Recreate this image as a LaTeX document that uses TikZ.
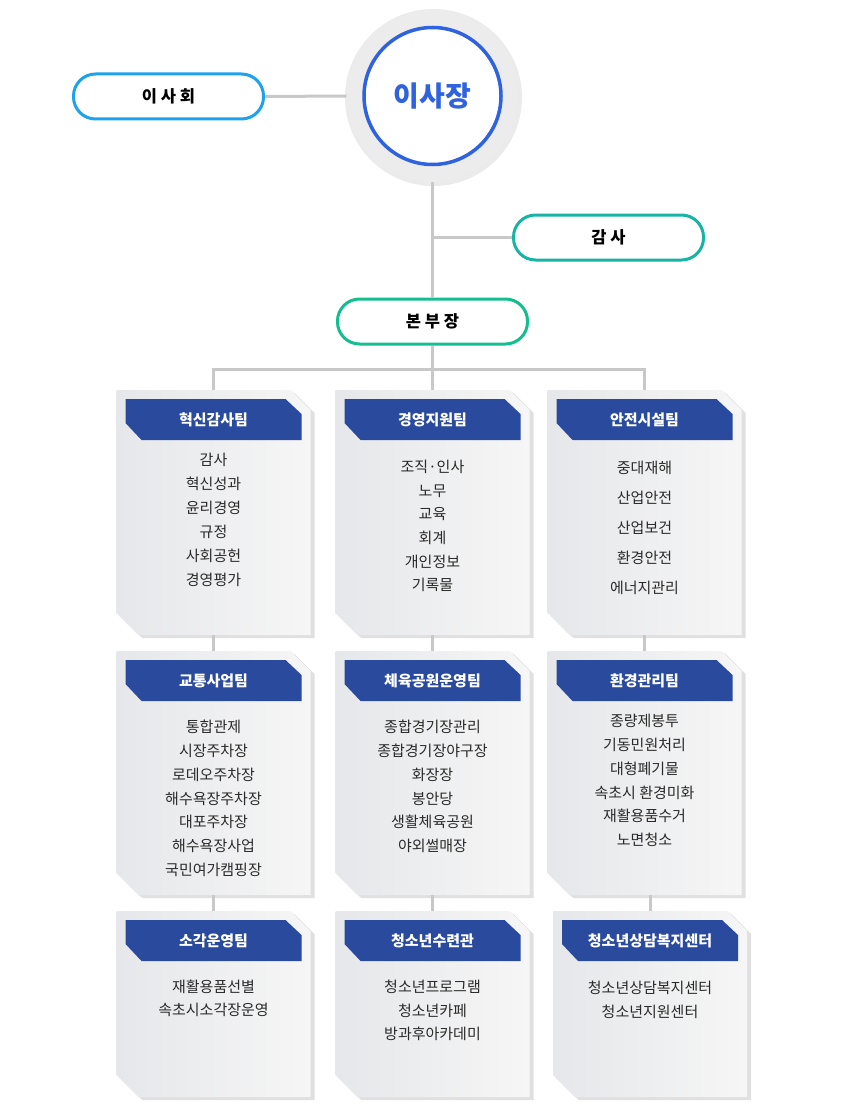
\documentclass[tikz,border=0pt]{standalone}
\usepackage{fontspec}
\setmainfont{Noto Sans CJK KR}
\usetikzlibrary{calc}
\definecolor{lineC}{HTML}{C8C8C8}
\definecolor{boardC}{HTML}{1EA2EE}
\definecolor{auditC}{HTML}{17B4A6}
\definecolor{bonC}{HTML}{14BE8E}
\definecolor{chairC}{HTML}{2F62DE}
\definecolor{ringC}{HTML}{ECECEC}
\definecolor{headC}{HTML}{2A4A9E}
\definecolor{cardL}{HTML}{E6E7EA}
\definecolor{cardR}{HTML}{F6F6F6}
\definecolor{itemC}{HTML}{2A2A2A}
\tikzset{
  conn/.style={draw=lineC, line width=3pt},
  pill/.style={draw=#1, line width=3pt, fill=white, rounded corners=22pt,
    minimum width=190pt, minimum height=45pt, inner sep=0pt,
    font=\fontsize{16.5}{18}\selectfont\bfseries, text=black},
  cardnode/.style={rectangle, inner sep=0pt, outer sep=0pt, minimum width=194pt},
  headtext/.style={font=\fontsize{15}{17}\selectfont\bfseries, text=white, inner sep=0pt},
  itemtext/.style={align=center, inner sep=0pt, text=itemC},
}
% #1 name, #2 cx, #3 top, #4 bottom, #5 title, #6 item center y, #7 baselineskip, #8 items
\newcommand\teamcard[8]{%
  \node[cardnode, minimum height={#4-#3}] (#1) at (#2,{(#3+#4)/2}) {};
  \fill[black!22, opacity=0.55]
    ($(#1.north west)+(4,3)$) -- ($(#1.north east)+(-16,3)$) -- ($(#1.north east)+(4,23)$)
    -- ($(#1.south east)+(4,3)$) -- ($(#1.south west)+(26,3)$) -- ($(#1.south west)+(4,-19)$) -- cycle;
  \fill[black!12, opacity=0.6]
    ($(#1.north west)+(2,1.5)$) -- ($(#1.north east)+(-18,1.5)$) -- ($(#1.north east)+(2,21.5)$)
    -- ($(#1.south east)+(2,1.5)$) -- ($(#1.south west)+(24,1.5)$) -- ($(#1.south west)+(2,-20.5)$) -- cycle;
  \shade[left color=cardL, right color=cardR]
    (#1.north west) -- ($(#1.north east)+(-20,0)$) -- ($(#1.north east)+(0,20)$)
    -- (#1.south east) -- ($(#1.south west)+(22,0)$) -- ($(#1.south west)+(0,-22)$) -- cycle;
  \fill[headC]
    ($(#1.north west)+(9,9)$) -- ($(#1.north east)+(-25,9)$) -- ($(#1.north east)+(-9,24)$)
    -- ($(#1.north east)+(-9,50)$) -- ($(#1.north west)+(25,50)$) -- ($(#1.north west)+(9,33)$) -- cycle;
  \node[headtext] (#1h) at ($(#1.north)+(0,30)$) {#5};
  \node[itemtext, font={\fontsize{15}{#7}\selectfont}] (#1t) at (#2,#6) {#8};
}
\begin{document}
\begin{tikzpicture}[x=1pt,y=-1pt]
\useasboundingbox[fill=white] (0,0) rectangle (857,1118);

% top section
\fill[black!8] (433.5,97.5) circle (88.5);
\node[circle, fill=ringC, minimum size=172pt, inner sep=0pt] (ring) at (432.5,96) {};
\node[circle, fill=white, draw=chairC, line width=3.5pt, minimum size=137pt, inner sep=0pt,
      font=\fontsize{28}{32}\selectfont\bfseries, text=chairC] (chair) at (432.5,96) {이사장};
\node[pill=boardC] (board) at (168.5,96.5) {이 사 회};
\node[pill=auditC] (audit) at (608.5,237.5) {감 사};
\node[pill=bonC] (bon) at (432.5,321.5) {본 부 장};

% cards
\teamcard{c11}{213.5}{390}{635}{혁신감사팀}{520}{24}{감사\\혁신성과\\윤리경영\\규정\\사회공헌\\경영평가}
\teamcard{c12}{432.5}{390}{635}{경영지원팀}{526}{23.6}{조직·인사\\노무\\교육\\회계\\개인정보\\기록물}
\teamcard{c13}{644.5}{390}{635}{안전시설팀}{528}{30}{중대재해\\산업안전\\산업보건\\환경안전\\에너지관리}
\teamcard{c21}{213.5}{651}{895}{교통사업팀}{798.5}{23.8}{통합관제\\시장주차장\\로데오주차장\\해수욕장주차장\\대포주차장\\해수욕장사업\\국민여가캠핑장}
\teamcard{c22}{432.5}{651}{895}{체육공원운영팀}{786.5}{23.8}{종합경기장관리\\종합경기장야구장\\화장장\\봉안당\\생활체육공원\\야외썰매장}
\teamcard{c23}{644.5}{651}{895}{환경관리팀}{780.5}{23.8}{종량제봉투\\기동민원처리\\대형폐기물\\속초시 환경미화\\재활용품수거\\노면청소}
\teamcard{c31}{213.5}{911}{1097}{소각운영팀}{998.5}{23.5}{재활용품선별\\속초시소각장운영}
\teamcard{c32}{432.5}{911}{1097}{청소년수련관}{1010.5}{23.5}{청소년프로그램\\청소년카페\\방과후아카데미}
\teamcard{c33}{650}{911}{1097}{청소년상담복지센터}{1000}{24}{청소년상담복지센터\\청소년지원센터}

% connectors
\draw[conn] (board.east) -- (ring.west);
\draw[conn] (ring.south) -- (bon.north);
\draw[conn] (audit.west) -- (audit.west -| ring.south);
\coordinate (j) at (432.5,369);
\draw[conn] (bon.south) -- (j);
\draw[conn] (c11.north) |- (j) -| (c13.north);
\draw[conn] (j) -- (c12.north);
\draw[conn] (c11.south) -- (c21.north);
\draw[conn] (c12.south) -- (c22.north);
\draw[conn] (c13.south) -- (c23.north);
\draw[conn] (c21.south) -- (c31.north);
\draw[conn] (c22.south) -- (c32.north);
\draw[conn] (c33.north) -- (c33.north |- c23.south);
\end{tikzpicture}
\end{document}
